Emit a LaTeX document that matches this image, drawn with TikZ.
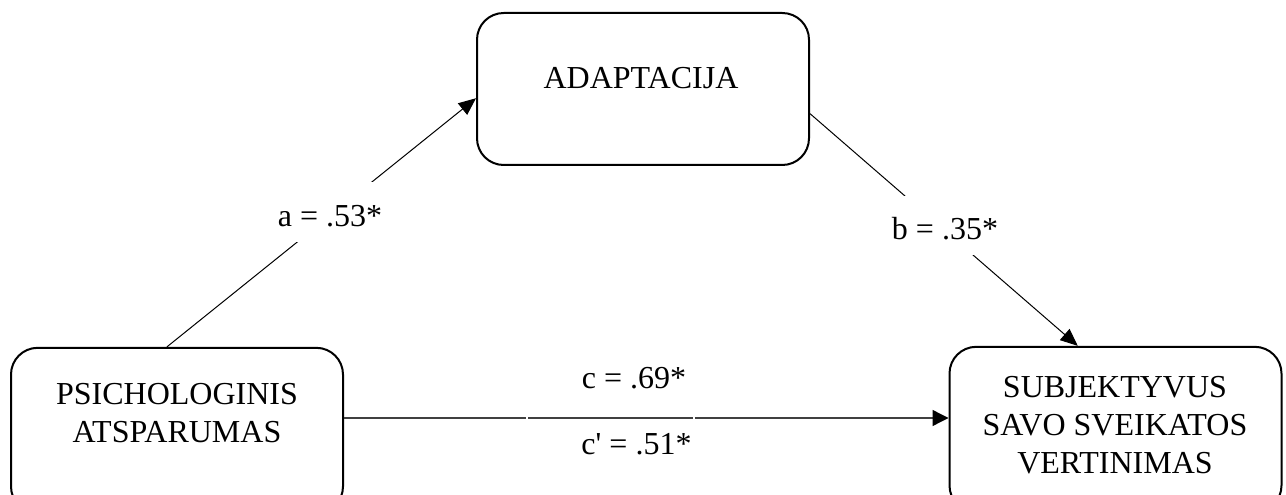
\documentclass[tikz,border=0pt]{standalone}
\usepackage{fontspec}
\setmainfont{Liberation Serif}
\usetikzlibrary{arrows.meta,calc}
\begin{document}
\begin{tikzpicture}[x=0.75pt,y=-0.75pt,
  box/.style={draw, line width=1.5pt, rounded corners=20pt, minimum width=249pt, minimum height=114pt, inner sep=0pt},
  txt/.style={font=\fontsize{24}{28.5}\selectfont, align=center, inner sep=0pt},
  lbl/.style={font=\fontsize{24}{28.5}\selectfont, inner sep=0pt, anchor=base},
  conn/.style={line width=0.75pt, -{Triangle[length=13pt,width=11pt]}},
  midconn/.style={line width=1pt, black!75, -{Triangle[length=12pt,width=12pt,color=black]}},
]
\useasboundingbox (0,0) rectangle (1286,495);
\clip (0,0) rectangle (1286,495);
% boxes
\node[box] (ada) at (643,89) {};
\node[box, minimum height=124pt] (psy) at (177,430.5) {};
\node[box, minimum height=124pt] (subj) at (1115.5,429.5) {};
% texts
\node[txt, anchor=base] (adat) at (641,89) {ADAPTACIJA};
\node[txt] (psyt) at (177,413) {PSICHOLOGINIS\\ATSPARUMAS};
\node[txt] (subjt) at (1115,425.5) {SUBJEKTYVUS\\SAVO SVEIKATOS\\VERTINIMAS};
% a path
\coordinate (aS) at ($(psy.north west)!0.47!(psy.north east)$);
\coordinate (aE) at ($(ada.north west)!0.56!(ada.south west)$);
\draw[conn] (aS) -- (aE);
\node[lbl, fill=white, text height=33.75pt, text depth=11.25pt] (la) at (330,227) {a = .53*};
% b path
\coordinate (bS) at ($(ada.north east)!0.66!(ada.south east)$);
\coordinate (bE) at ($(subj.north west)!0.387!(subj.north east)$);
\draw[conn] (bS) -- (bE);
\node[lbl, fill=white, text height=33pt, text depth=11.25pt] (lb) at (945,240) {b = .35*};
% c path
\coordinate (midy) at (0,418);
\draw[midconn] (psy.east |- midy) -- (subj.west |- midy);
\draw[white, line width=1.2pt] (527,414) -- (527,422);
\draw[white, line width=1.2pt] (694,414) -- (694,422);
\node[lbl] (lc) at (634,388) {c = .69*};
\node[lbl] (lc2) at (636.5,455) {c\textquotesingle{} = .51*};
\end{tikzpicture}
\end{document}
